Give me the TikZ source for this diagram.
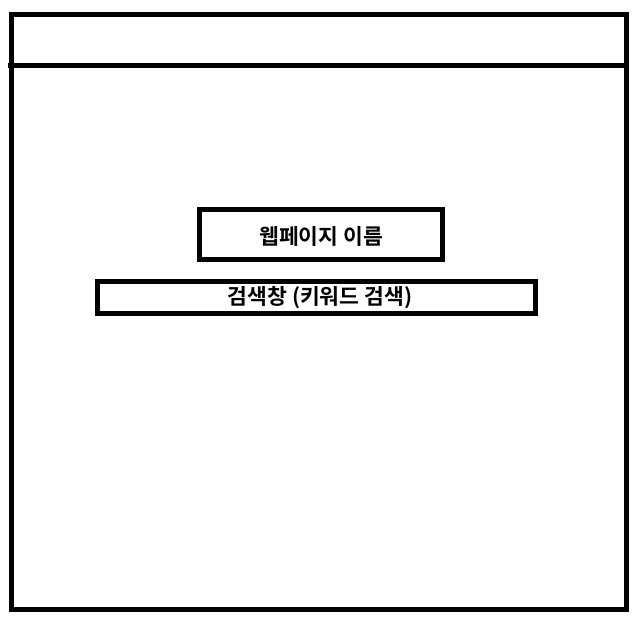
\documentclass[tikz,border=0pt]{standalone}
\usepackage{fontspec}
\newfontfamily\kr{Noto Sans CJK KR}[BoldFont={* Bold}]
\begin{document}
\begin{tikzpicture}[x=1pt,y=-1pt,
  frame/.style={draw=black,line width=5pt},
  label/.style={font=\kr\bfseries\fontsize{21.5}{25}\selectfont,inner sep=0pt}]
\useasboundingbox (0,0) rectangle (643,623);
\draw[frame] (11.5,14.5) rectangle (626.5,609);
\coordinate (hl) at (8,65.5);
\coordinate (hr) at (626.5,65.5);
\draw[frame] (hl) -- (hr);
\node[frame,minimum width=242.5pt,minimum height=49.5pt,inner sep=0pt] (title) at (320.75,234.25) {};
\node[label] (titletext) at (321,236) {웹페이지 이름};
\node[frame,minimum width=438pt,minimum height=32pt,inner sep=0pt] (search) at (316.5,297.5) {};
\node[label] (searchtext) at (320,298) {검색창 (키워드 검색)};
\end{tikzpicture}
\end{document}
